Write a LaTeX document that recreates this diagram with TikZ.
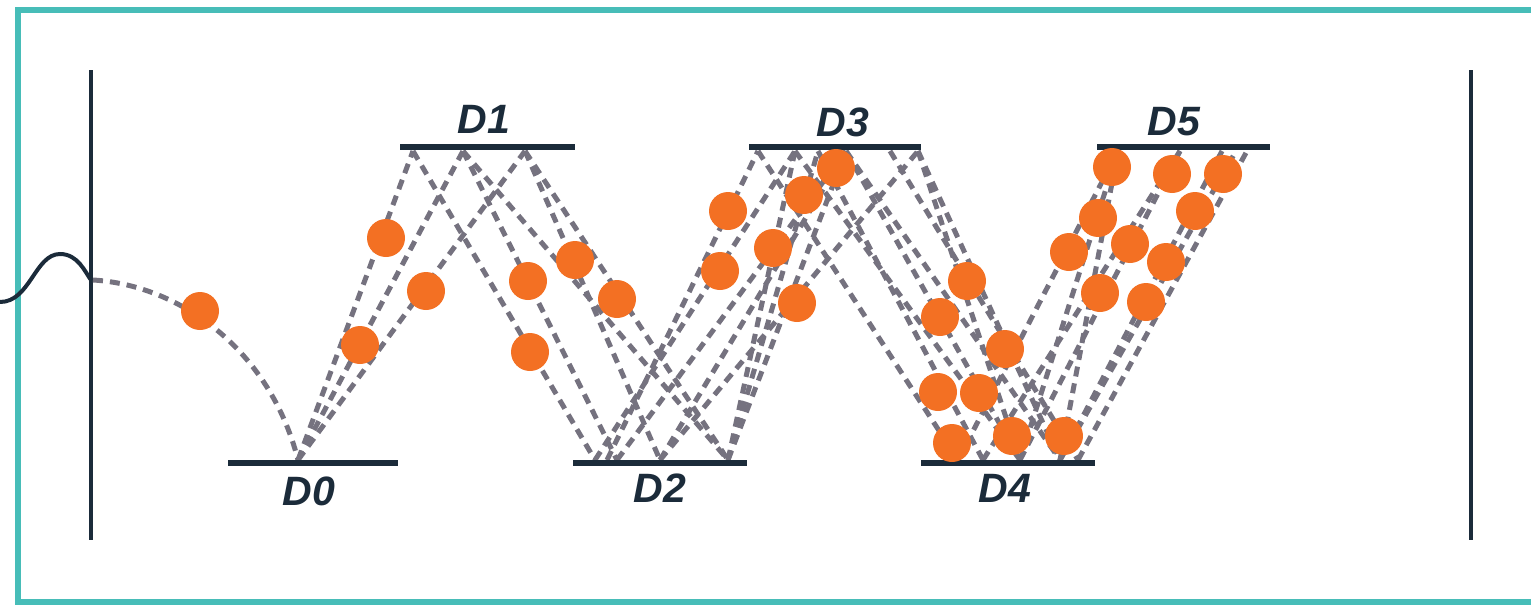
\documentclass[tikz,border=0pt]{standalone}
\usepackage{fontspec}
\setmainfont{Liberation Sans}
\definecolor{frameteal}{HTML}{47BDB8}
\definecolor{navy}{HTML}{1B2B3A}
\definecolor{pathgrey}{HTML}{75727F}
\definecolor{ballorange}{HTML}{F37023}
\begin{document}
\begin{tikzpicture}[x=0.5pt,y=-0.5pt,
  frame/.style={draw=frameteal,line width=2.6pt},
  wall/.style={draw=navy,line width=2pt},
  plate/.style={draw=navy,line width=3pt},
  track/.style={draw=pathgrey,line width=2.5pt,dash pattern=on 5pt off 3.5pt},
  ball/.style={circle,fill=ballorange,inner sep=0pt,minimum size=19pt},
  dlabel/.style={text=navy,font=\fontsize{20.5}{21}\selectfont\bfseries\itshape,inner sep=0pt}]
\useasboundingbox (0,0) rectangle (1531,605);

% outer frame (open towards the right edge)
\draw[frame] (1560,10) -- (18,10) -- (18,602) -- (1560,602);

% side walls
\draw[wall] (91,70) -- (91,540);
\draw[wall] (1471,70) -- (1471,540);

% incoming wave
\draw[navy,line width=2pt] (0,302) .. controls (30,302) and (35,254) .. (60,254)
  .. controls (78,254) and (85,272) .. (91,280);

% bounce points on the dynodes
\coordinate (w)   at (93,280);
\coordinate (p0)  at (298,460);
\coordinate (d1a) at (413,151); \coordinate (d1b) at (463,151); \coordinate (d1c) at (525,151);
\coordinate (d2a) at (595,460); \coordinate (d2b) at (607,460); \coordinate (d2c) at (617,460);
\coordinate (d2d) at (660,460); \coordinate (d2e) at (728,460);
\coordinate (d3a) at (758,151); \coordinate (d3b) at (795,151); \coordinate (d3c) at (818,151);
\coordinate (d3d) at (846,151); \coordinate (d3e) at (890,151); \coordinate (d3f) at (918,151);
\coordinate (d4a) at (958,460); \coordinate (d4b) at (983,460); \coordinate (d4c) at (1020,460);
\coordinate (d4d) at (1060,460); \coordinate (d4e) at (1078,460);
\coordinate (d5a) at (1118,151); \coordinate (d5b) at (1180,151); \coordinate (d5c) at (1222,151);
\coordinate (d5d) at (1236,151); \coordinate (d5e) at (1247,151);

% electron tracks
\draw[track] (w) .. controls (180,285) and (270,350) .. (p0);
\foreach \s/\e in {p0/d1a,p0/d1b,p0/d1c,
    d1a/d2a,d1b/d2c,d1b/d2e,d1c/d2d,d1c/d2e,
    d2b/d3a,d2a/d3b,d2c/d3d,d2d/d3f,d2e/d3c,d2d/d3d,d2e/d3b,d2e/d3d,
    d3a/d4a,d3b/d4c,d3c/d4b,d3d/d4c,d3e/d4e,d3f/d4c,d3f/d4d,d3d/d4d,
    d4a/d5a,d4b/d5b,d4d/d5a,d4d/d5c,d4d/d5d,d4c/d5b,d4e/d5e,d4c/d5a}
  \draw[track] (\s) -- (\e);

% dynodes
\draw[plate] (228,463) -- (398,463);
\draw[plate] (400,147) -- (575,147);
\draw[plate] (573,463) -- (747,463);
\draw[plate] (749,147) -- (921,147);
\draw[plate] (921,463) -- (1095,463);
\draw[plate] (1097,147) -- (1270,147);

\node[dlabel] (l0) at (309,491) {D0};
\node[dlabel] (l1) at (484,119) {D1};
\node[dlabel] (l2) at (660,488) {D2};
\node[dlabel] (l3) at (843,122) {D3};
\node[dlabel] (l4) at (1005,488) {D4};
\node[dlabel] (l5) at (1174,122) {D5};

% electrons
\foreach \n/\x/\y in {1/200/311,2/386/238,3/426/291,4/360/345,5/528/281,6/575/260,
    7/617/299,8/530/352,9/728/211,10/720/271,11/773/248,12/804/195,13/836/168,
    14/797/303,15/967/281,16/940/317,17/1005/349,18/938/392,19/979/393,20/952/443,
    21/1012/436,22/1064/436,23/1069/252,24/1098/218,25/1112/167,26/1172/174,
    27/1223/174,28/1195/211,29/1130/244,30/1166/262,31/1100/293,32/1146/302}
  \node[ball] (e\n) at (\x,\y) {};
\end{tikzpicture}
\end{document}
